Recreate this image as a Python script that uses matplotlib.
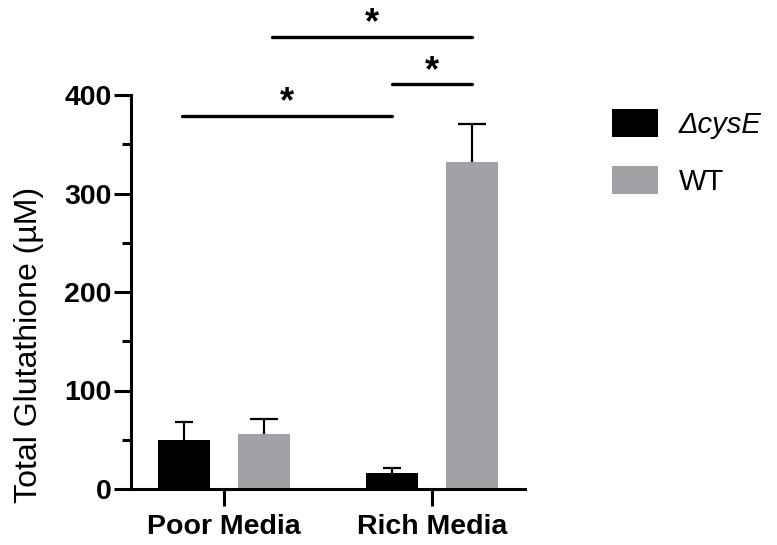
import matplotlib
matplotlib.use("Agg")
import matplotlib.pyplot as plt
import numpy as np

plt.rcParams["font.family"] = ["Liberation Sans", "DejaVu Sans"]

# data
groups = ["Poor Media", "Rich Media"]
series = ["\u0394cysE", "WT"]
cyse_mean = [49.7, 16.2]
cyse_err = [18.3, 5.1]
wt_mean = [55.8, 332.0]
wt_err = [15.2, 38.6]
yticks = [0, 100, 200, 300, 400]

# significance brackets: (x start, x end, height) in data units
sig_x0 = [-0.20, 0.81, 0.23]
sig_x1 = [0.81, 1.19, 1.19]
sig_y = [379, 411, 459]

BLACK = "#000000"
GREY = "#A1A0A5"

fig = plt.figure(figsize=(7.77, 5.45), dpi=100)
ax = fig.add_axes([131 / 777, 56 / 545, 394 / 777, 394 / 545])

x = np.arange(len(groups))
off, w = 0.19, 0.25
ax.bar(x - off, cyse_mean, w, color=BLACK, label=series[0], zorder=2)
ax.bar(x + off, wt_mean, w, color=GREY, label=series[1], zorder=2)
for pos, mean, err, cap in [(x - off, cyse_mean, cyse_err, 6.5),
                            (x + off, wt_mean, wt_err, 9.8)]:
    eb = ax.errorbar(pos, mean, yerr=[np.zeros(2), err], fmt="none",
                     ecolor="black", elinewidth=1.6, capsize=cap,
                     capthick=1.6, zorder=1)
    eb[1][0].set_visible(False)  # no cap at the bar top

for x0, x1, y in zip(sig_x0, sig_x1, sig_y):
    ax.plot([x0, x1], [y, y], color="black", lw=2.4, solid_capstyle="round",
            clip_on=False)
    ax.text((x0 + x1) / 2, y + 13, "*", ha="center", va="center",
            fontsize=26, fontweight="bold", clip_on=False)

ax.set_xlim(-0.447, 1.447)
ax.set_ylim(0, 400)
ax.set_yticks(yticks)
ax.set_yticks([50, 150, 250, 350], minor=True)
ax.set_xticks(x)
ax.set_xticklabels(groups, fontsize=20.5, fontweight="bold")
ax.tick_params(axis="y", labelsize=20.5, pad=2)
for t in ax.get_yticklabels():
    t.set_fontweight("bold")
ax.tick_params(which="major", length=12, width=2.2)
ax.tick_params(which="minor", length=6.5, width=2.2)
ax.tick_params(axis="x", pad=6)

for s in ["top", "right"]:
    ax.spines[s].set_visible(False)
for s in ["left", "bottom"]:
    ax.spines[s].set_linewidth(2.2)

ax.set_ylabel("Total Glutathione (\u00b5M)", fontsize=23)
ax.yaxis.set_label_coords(-0.222, 0.365)

leg = ax.legend(loc="upper left", bbox_to_anchor=(1.19, 0.995), frameon=False,
                fontsize=21, handlelength=1.6, handleheight=1.1,
                labelspacing=0.95, handletextpad=0.7, borderaxespad=0)
leg.get_texts()[0].set_fontstyle("italic")

fig.savefig("out.png", dpi=100)
